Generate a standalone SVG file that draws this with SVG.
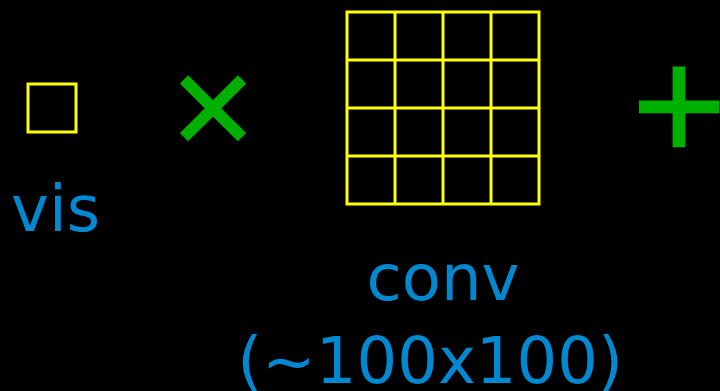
<svg xmlns="http://www.w3.org/2000/svg" width="720" height="391" viewBox="0 0 720 391">
  <style>
    .cell { fill: none; stroke: #ffff00; stroke-width: 3; }
    .label { font-family: "DejaVu Sans", sans-serif; font-size: 64px; fill: #0088d1; }
    .op { font-family: "DejaVu Sans", sans-serif; fill: #00b000; stroke: #00b000; stroke-width: 2.5; text-anchor: middle; }
  </style>
  <rect width="720" height="391" fill="#000000"/>

  <!-- single visual cell -->
  <g id="vis">
    <rect class="cell" x="28" y="84" width="48" height="48"/>
    <text class="label" x="11" y="231">vis</text>
  </g>

  <g id="times">
    <text class="op" x="213" y="143" font-size="111">×</text>
  </g>

  <!-- 4x4 convolution grid -->
  <g id="conv">
    <rect class="cell" x="347" y="12" width="192" height="192"/>
    <path class="cell" d="M395 12V204M443 12V204M491 12V204M347 60H539M347 108H539M347 156H539"/>
    <text class="label" x="443" y="300" text-anchor="middle">conv</text>
    <text class="label" x="430" y="383" text-anchor="middle">(~100x100)</text>
  </g>

  <g id="plus">
    <text class="op" x="679" y="146" font-size="124">+</text>
  </g>
</svg>
